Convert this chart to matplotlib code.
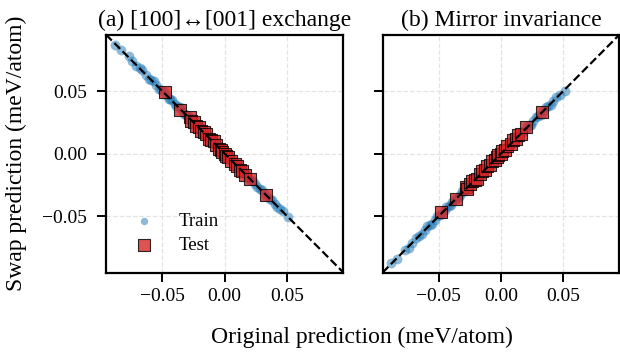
import matplotlib
matplotlib.use("Agg")
import matplotlib.pyplot as plt

plt.rcParams["font.family"] = ["Liberation Serif", "DejaVu Serif"]
plt.rcParams["mathtext.fontset"] = "stix"

# Model predictions (meV/atom) on the original and transformed structures
train_orig = [-0.088, -0.083, -0.077, -0.074, -0.071, -0.068, -0.066, -0.063, -0.061, -0.059,
              -0.057, -0.055, -0.053, -0.051, -0.049, -0.047, -0.045, -0.044, -0.042, -0.040,
              -0.039, -0.037, -0.036, -0.034, -0.033, -0.031, -0.030, -0.029, -0.027, -0.026,
              -0.025, -0.024, -0.022, -0.021, -0.020, -0.019, -0.018, -0.017, -0.016, -0.015,
              -0.014, -0.013, -0.012, -0.011, -0.010, -0.009, -0.008, -0.007, -0.006, -0.005,
              -0.004, -0.003, -0.002, -0.001, 0.000, 0.001, 0.002, 0.003, 0.004, 0.005,
              0.006, 0.007, 0.008, 0.009, 0.010, 0.011, 0.012, 0.013, 0.014, 0.016,
              0.017, 0.018, 0.020, 0.021, 0.023, 0.024, 0.026, 0.028, 0.030, 0.032,
              0.034, 0.036, 0.038, 0.040, 0.042, 0.044, 0.047, 0.051]
train_swap_a = [0.087, 0.083, 0.078, 0.074, 0.070, 0.068, 0.067, 0.063, 0.060, 0.059,
                0.058, 0.055, 0.052, 0.051, 0.050, 0.047, 0.044, 0.044, 0.043, 0.040,
                0.038, 0.037, 0.037, 0.034, 0.032, 0.031, 0.031, 0.029, 0.026, 0.026,
                0.026, 0.024, 0.021, 0.021, 0.021, 0.019, 0.017, 0.017, 0.017, 0.015,
                0.013, 0.013, 0.013, 0.011, 0.009, 0.009, 0.009, 0.007, 0.005, 0.005,
                0.005, 0.003, 0.001, 0.001, 0.001, -0.001, -0.003, -0.003, -0.003, -0.005,
                -0.007, -0.007, -0.007, -0.009, -0.011, -0.011, -0.011, -0.013, -0.015, -0.016,
                -0.016, -0.018, -0.021, -0.021, -0.022, -0.024, -0.027, -0.028, -0.029, -0.032,
                -0.035, -0.036, -0.037, -0.040, -0.043, -0.044, -0.046, -0.051]
train_swap_b = [-0.087, -0.084, -0.077, -0.075, -0.071, -0.067, -0.066, -0.064, -0.061, -0.058,
                -0.057, -0.056, -0.053, -0.050, -0.049, -0.048, -0.045, -0.043, -0.042, -0.041,
                -0.039, -0.036, -0.036, -0.035, -0.033, -0.030, -0.030, -0.030, -0.027, -0.025,
                -0.025, -0.025, -0.022, -0.020, -0.020, -0.020, -0.018, -0.016, -0.016, -0.016,
                -0.014, -0.012, -0.012, -0.012, -0.010, -0.008, -0.008, -0.008, -0.006, -0.004,
                -0.004, -0.004, -0.002, 0.000, 0.000, 0.000, 0.002, 0.004, 0.004, 0.004,
                0.006, 0.008, 0.008, 0.008, 0.010, 0.012, 0.012, 0.012, 0.014, 0.017,
                0.017, 0.017, 0.020, 0.022, 0.023, 0.023, 0.026, 0.029, 0.030, 0.031,
                0.034, 0.037, 0.038, 0.039, 0.042, 0.045, 0.047, 0.050]

test_orig = [-0.048, -0.036, -0.028, -0.027, -0.025, -0.023, -0.021, -0.019, -0.017, -0.015,
             -0.013, -0.011, -0.009, -0.007, -0.005, -0.003, -0.002, 0.000, 0.001, 0.003,
             0.005, 0.008, 0.010, 0.012, 0.014, 0.016, 0.020, 0.033]
test_swap_a = [0.049, 0.035, 0.029, 0.026, 0.025, 0.022, 0.021, 0.018, 0.017, 0.016,
               0.012, 0.011, 0.010, 0.007, 0.004, 0.003, 0.001, 0.000, -0.002, -0.003,
               -0.006, -0.008, -0.010, -0.013, -0.014, -0.017, -0.020, -0.033]
test_swap_b = [-0.047, -0.036, -0.027, -0.028, -0.024, -0.022, -0.021, -0.020, -0.016, -0.014,
               -0.013, -0.010, -0.009, -0.006, -0.005, -0.003, -0.001, 0.000, 0.002, 0.003,
               0.006, 0.008, 0.011, 0.012, 0.015, 0.016, 0.021, 0.033]

titles = ["(a) [100]\u2194[001] exchange", "(b) Mirror invariance"]
diag_slopes = [-1, 1]
ticks = [-0.05, 0.00, 0.05]
lim = 0.095

fig = plt.figure(figsize=(6.2, 3.54), dpi=100)
ax_a = fig.add_axes([0.171, 0.230, 0.383, 0.672])
ax_b = fig.add_axes([0.617, 0.230, 0.382, 0.672], sharey=ax_a)

panels = [(ax_a, train_swap_a, test_swap_a), (ax_b, train_swap_b, test_swap_b)]
for i, (ax, tr_swap, te_swap) in enumerate(panels):
    ax.set_xlim(-lim, lim)
    ax.set_ylim(-lim, lim)
    ax.grid(True, linestyle="--", color="#e4e4e4", linewidth=0.9)
    ax.set_axisbelow(True)
    ax.scatter(train_orig, tr_swap, s=50, color="#1f77b4", alpha=0.5,
               linewidths=0, label="Train", zorder=2)
    ax.scatter(test_orig, te_swap, s=72, marker="s", facecolor="#d62728",
               alpha=0.8, edgecolor="black", linewidths=0.8, label="Test", zorder=3)
    s = diag_slopes[i]
    ax.plot([-lim, lim], [-s * lim, s * lim], linestyle="--", color="black",
            linewidth=1.6, zorder=4)
    ax.set_xticks(ticks)
    ax.set_yticks(ticks)
    ax.tick_params(direction="out", length=6.5, width=1.4, labelsize=14)
    ax.tick_params(axis="x", pad=4.5)
    ax.tick_params(axis="y", pad=7)
    for sp in ax.spines.values():
        sp.set_linewidth(1.6)
    ax.set_title(titles[i], fontsize=17, pad=6)

ax_b.tick_params(labelleft=False)

leg = ax_a.legend(loc="lower left", frameon=False, fontsize=13.5, handletextpad=0.85,
                  borderpad=0.5, labelspacing=0.35, bbox_to_anchor=(0.0, 0.0))
leg.legend_handles[0].set_sizes([28])

fig.text(0.584, 0.018, "Original prediction (meV/atom)", ha="center", va="bottom", fontsize=17)
fig.text(0.026, 0.567, "Swap prediction (meV/atom)", ha="center", va="center",
         rotation=90, fontsize=17)

fig.savefig("out.png", dpi=100)
